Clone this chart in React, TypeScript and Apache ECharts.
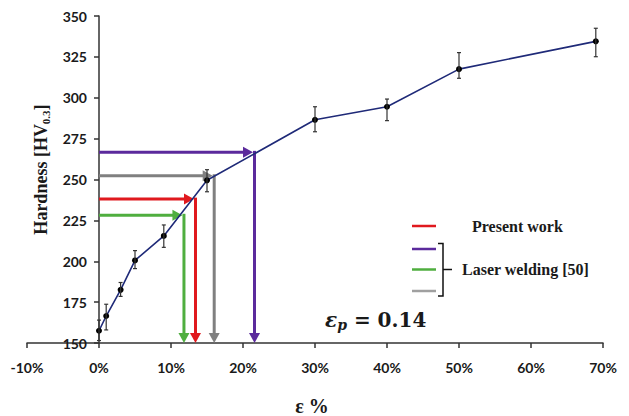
import React, { useEffect, useRef } from "react";
import * as echarts from "echarts";

// Measured data (strain %, hardness HV0.3)
const strain = [0, 1, 3, 5, 9, 15, 30, 40, 50, 69];
const hardness = [157.5, 166.5, 182.5, 200.5, 215.5, 249.5, 286.5, 294.5, 317.5, 334.5];
const errLow = [151.5, 158, 178.5, 195.5, 208.5, 242.5, 279.2, 286, 311.9, 325.1];
const errHigh = [164, 173.7, 187, 206.5, 222.2, 256, 294.5, 299.2, 327.6, 342.5];

// Guide arrows: purple, gray, red, green
const arrowHV = [266.6, 252.3, 238, 228.1];
const arrowStrain = [21.6, 16.0, 13.4, 11.8];
const arrowColors = ["#5b2a9c", "#808080", "#e0191e", "#4fae3f"];

const xTicks = { min: -10, max: 70, interval: 10 };
const yTicks = { min: 150, max: 350, interval: 25 };

const legendItems = [
  { color: "#e0191e", label: "Present work" },
  { color: "#5b2a9c", label: "" },
  { color: "#4fae3f", label: "Laser welding [50]" },
  { color: "#a0a0a0", label: "" },
];

const serif = "Liberation Serif";
const sans = "Lato";

const W = 629;
const H = 416;
const GRID = { left: 27, right: 26, top: 16, bottom: 73 };

export default function App() {
  const ref = useRef<HTMLDivElement>(null);
  useEffect(() => {
    if (!ref.current) return;
    const chart = echarts.init(ref.current, null, { renderer: "svg" });

    const lineData = strain.map((s, i) => [s, hardness[i]]);
    const errData = strain.map((s, i) => [s, errLow[i], errHigh[i]]);
    const arrowData = arrowStrain.map((s, i) => [s, arrowHV[i]]);

    // y axis crosses the x axis at 0 %: shift it inward from the grid's left edge
    const plotW = W - GRID.left - GRID.right;
    const yOffset = -plotW * (0 - xTicks.min) / (xTicks.max - xTicks.min);

    const lw = 3;
    const headL = 10;
    const headW = 5.5;

    const option: any = {
      animation: false,
      backgroundColor: "#ffffff",
      grid: { ...GRID, containLabel: false, outerBoundsMode: "none" },
      xAxis: {
        type: "value",
        min: xTicks.min,
        max: xTicks.max,
        interval: xTicks.interval,
        splitLine: { show: false },
        axisLine: { onZero: false, lineStyle: { color: "#333", width: 1.5 } },
        axisTick: { show: true, length: 5, lineStyle: { color: "#333", width: 1.5 } },
        axisLabel: {
          formatter: (v: number) => `${v}%`,
          fontFamily: sans,
          fontWeight: "bold",
          fontSize: 14,
          color: "#1a1a1a",
          margin: 17,
        },
        name: "ε %",
        nameLocation: "middle",
        nameGap: 53,
        nameTextStyle: { fontFamily: serif, fontWeight: "bold", fontSize: 20, color: "#1a1a1a", padding: [0, 6, 0, 0] },
      },
      yAxis: {
        type: "value",
        min: yTicks.min,
        max: yTicks.max,
        interval: yTicks.interval,
        offset: yOffset,
        splitLine: { show: false },
        axisLine: { onZero: false, lineStyle: { color: "#333", width: 1.5 } },
        axisTick: { show: true, length: 5, lineStyle: { color: "#333", width: 1.5 } },
        axisLabel: {
          fontFamily: sans,
          fontWeight: "bold",
          fontSize: 14,
          color: "#1a1a1a",
          margin: 12,
        },
        name: "{a|Hardness [HV}{s|0.3}{a|]}",
        nameLocation: "middle",
        nameRotate: 90,
        nameGap: 48,
        nameTextStyle: {
          padding: [0, 0, 0, 20],
          rich: {
            a: { fontFamily: serif, fontWeight: "bold", fontSize: 18, color: "#1a1a1a", lineHeight: 20 },
            s: { fontFamily: serif, fontWeight: "bold", fontSize: 11, color: "#1a1a1a", lineHeight: 20, verticalAlign: "bottom", padding: [7, 0, 0, 0] },
          },
        },
      },
      series: [
        {
          type: "custom",
          name: "arrows",
          z: 1,
          data: arrowData,
          renderItem: (params: any, api: any) => {
            const x = api.value(0);
            const y = api.value(1);
            const color = arrowColors[params.dataIndex];
            const start = api.coord([0, y]);
            const corner = api.coord([x, y]);
            const bottom = api.coord([x, yTicks.min]);
            const tipX = corner[0] - lw / 2;
            const vx = corner[0];
            return {
              type: "group",
              children: [
                {
                  type: "line",
                  shape: { x1: start[0], y1: corner[1], x2: tipX - headL + 1, y2: corner[1] },
                  style: { stroke: color, lineWidth: lw },
                },
                {
                  type: "polygon",
                  shape: { points: [[tipX, corner[1]], [tipX - headL, corner[1] - headW], [tipX - headL, corner[1] + headW]] },
                  style: { fill: color },
                },
                {
                  type: "line",
                  shape: { x1: vx, y1: corner[1] - lw / 2, x2: vx, y2: bottom[1] - headL + 1 },
                  style: { stroke: color, lineWidth: lw },
                },
                {
                  type: "polygon",
                  shape: { points: [[vx, bottom[1]], [vx - headW, bottom[1] - headL], [vx + headW, bottom[1] - headL]] },
                  style: { fill: color },
                },
              ],
            };
          },
        },
        {
          type: "line",
          name: "Hardness",
          z: 3,
          data: lineData,
          symbol: "circle",
          symbolSize: 6,
          itemStyle: { color: "#000000" },
          lineStyle: { color: "#1f2a78", width: 1.6 },
        },
        {
          type: "custom",
          name: "errors",
          z: 4,
          data: errData,
          renderItem: (params: any, api: any) => {
            const x = api.value(0);
            const lo = api.coord([x, api.value(1)]);
            const hi = api.coord([x, api.value(2)]);
            const c = 2;
            const st = { stroke: "#333", lineWidth: 1.2 };
            return {
              type: "group",
              children: [
                { type: "line", shape: { x1: lo[0], y1: lo[1], x2: hi[0], y2: hi[1] }, style: st },
                { type: "line", shape: { x1: lo[0] - c, y1: lo[1], x2: lo[0] + c, y2: lo[1] }, style: st },
                { type: "line", shape: { x1: hi[0] - c, y1: hi[1], x2: hi[0] + c, y2: hi[1] }, style: st },
              ],
            };
          },
        },
      ],
      graphic: [
        ...legendItems.map((it, i) => ({
          type: "line",
          shape: { x1: 412, y1: [226, 249, 269.5, 291][i], x2: 436, y2: [226, 249, 269.5, 291][i] },
          style: { stroke: it.color, lineWidth: 2.5 },
        })),
        {
          type: "polyline",
          shape: { points: [[438, 243.5], [443, 243.5], [443, 296], [438, 296]] },
          style: { stroke: "#111", lineWidth: 1.5, fill: "none" },
        },
        {
          type: "line",
          shape: { x1: 443, y1: 269.5, x2: 452, y2: 269.5 },
          style: { stroke: "#111", lineWidth: 1.5 },
        },
        {
          type: "text",
          x: 472,
          y: 226,
          style: { text: legendItems[0].label, fontFamily: serif, fontWeight: "bold", fontSize: 16, fill: "#1a1a1a", verticalAlign: "middle" },
        },
        {
          type: "text",
          x: 462,
          y: 269.5,
          style: { text: legendItems[2].label, fontFamily: serif, fontWeight: "bold", fontSize: 16, fill: "#1a1a1a", verticalAlign: "middle" },
        },
        {
          type: "text",
          x: 325,
          y: 320,
          style: {
            text: "{e|ε}{p|p}{n| = 0.14}",
            verticalAlign: "middle",
            rich: {
              e: { fontFamily: "DejaVu Serif", fontStyle: "italic", fontWeight: "bold", fontSize: 20, fill: "#1a1a1a", lineHeight: 24 },
              p: { fontFamily: "DejaVu Serif", fontStyle: "italic", fontWeight: "bold", fontSize: 14, fill: "#1a1a1a", lineHeight: 24, verticalAlign: "bottom", padding: [8, 0, 0, 0] },
              n: { fontFamily: "DejaVu Serif", fontWeight: "bold", fontSize: 20, fill: "#1a1a1a", lineHeight: 24 },
            },
          },
        },
      ],
    };

    chart.setOption(option);
    return () => chart.dispose();
  }, []);

  return (
    <div
      ref={ref}
      style={{ position: "absolute", left: 0, top: 0, width: W, height: H, background: "#fff" }}
    />
  );
}
